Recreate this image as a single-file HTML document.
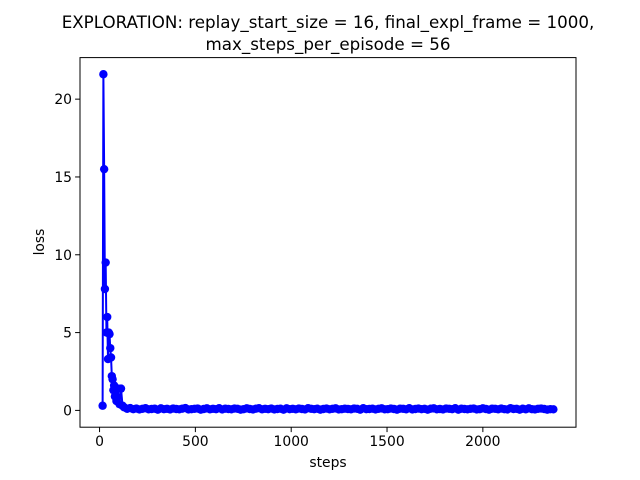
<!DOCTYPE html>
<html><head><meta charset="utf-8"><style>body{margin:0;background:#fff}svg{display:block;font-family:"DejaVu Sans","Liberation Sans",sans-serif}</style></head>
<body>
<svg id="chart" width="640" height="480"></svg>
<script>
const headSteps=[16,20,24,28,32,36,40,44,48,52,56,60,64,68,72,76,80,88,96,104,112,120,128,144,160];
const headLoss=[0.3,21.6,15.5,7.8,9.5,5.0,6.0,3.3,5.0,4.9,4.0,3.4,2.2,2.0,1.3,1.6,0.9,0.6,1.4,0.4,1.4,0.3,0.2,0.1,0.15];
const tailLoss=[0.08,0.12,0.06,0.1,0.14,0.07,0.09,0.11,0.05,0.13,0.08,0.1,0.06,0.12,0.09,0.07,0.11,0.15,0.06,0.08,0.1,0.12,0.05,0.09,0.13,0.07,0.1,0.08,0.14,0.06,0.11,0.09,0.07,0.12,0.1,0.05,0.08,0.13,0.09,0.06,0.11,0.14,0.07,0.1,0.08,0.12,0.06,0.09,0.11,0.05,0.13,0.08,0.1,0.07,0.12,0.09,0.06,0.14,0.1,0.08,0.11,0.05,0.09,0.12,0.07,0.1,0.13,0.06,0.08,0.11,0.09,0.07,0.12,0.1,0.05,0.14,0.08,0.09,0.11,0.06,0.1,0.13,0.07,0.08,0.12,0.09,0.05,0.11,0.1,0.07,0.14,0.06,0.09,0.12,0.08,0.1,0.05,0.11,0.13,0.07,0.09,0.06,0.12,0.1,0.08,0.14,0.05,0.11,0.09,0.07,0.1,0.12,0.06,0.08,0.13,0.09,0.05,0.11,0.1,0.07,0.12,0.08,0.06,0.14,0.09,0.1,0.05,0.11,0.07,0.13,0.08,0.06,0.1,0.12,0.09,0.05,0.08,0.07];
const xTicks=[0,500,1000,1500,2000];
const yTicks=[0,5,10,15,20];
const tailStart=176, tailStep=16;

const steps=headSteps.slice(), loss=headLoss.slice();
tailLoss.forEach((v,i)=>{steps.push(tailStart+i*tailStep);loss.push(v);});

const L=80,R=576,T=57.6,B=427.2;
const xmin=-102,xmax=2486,ymin=-1.08,ymax=22.67;
const X=v=>L+(v-xmin)/(xmax-xmin)*(R-L);
const Y=v=>B-(v-ymin)/(ymax-ymin)*(B-T);
const svg=document.getElementById('chart');const NS='http://www.w3.org/2000/svg';
function mk(tag,attrs,parent){const e=document.createElementNS(NS,tag);for(const k in attrs)e.setAttribute(k,attrs[k]);(parent||svg).appendChild(e);return e;}

let t=mk('text',{x:328,y:28,'text-anchor':'middle','font-size':16.7});t.textContent='EXPLORATION: replay_start_size = 16, final_expl_frame = 1000,';


t=mk('text',{x:328,y:50,'text-anchor':'middle','font-size':16.7});t.textContent='max_steps_per_episode = 56';



const g=mk('g',{});


mk('polyline',{points:steps.map((s,i)=>X(s)+','+Y(loss[i])).join(' '),fill:'none',stroke:'#0000ff','stroke-width':2},g);
steps.forEach((s,i)=>{const c=mk('circle',{cx:X(s),cy:Y(loss[i]),r:4.2,fill:'#0000ff'},g);

});

const fr=mk('rect',{x:L,y:T,width:R-L,height:B-T,fill:'none',stroke:'#000','stroke-width':1});



xTicks.forEach(v=>{const x=X(v);mk('line',{x1:x,x2:x,y1:B,y2:B+4.9,stroke:'#000'});
const tt=mk('text',{x:x,y:B+19,'text-anchor':'middle','font-size':13.9});tt.textContent=v;

});
yTicks.forEach(v=>{const y=Y(v);mk('line',{x1:L-4.9,x2:L,y1:y,y2:y,stroke:'#000'});
const tt=mk('text',{x:L-8,y:y+5,'text-anchor':'end','font-size':13.9});tt.textContent=v;

});

t=mk('text',{x:328,y:467,'text-anchor':'middle','font-size':13.9});t.textContent='steps';


t=mk('text',{x:44,y:242,'text-anchor':'middle','font-size':13.9,transform:'rotate(-90 44 242)'});t.textContent='loss';


</script>
</body></html>
